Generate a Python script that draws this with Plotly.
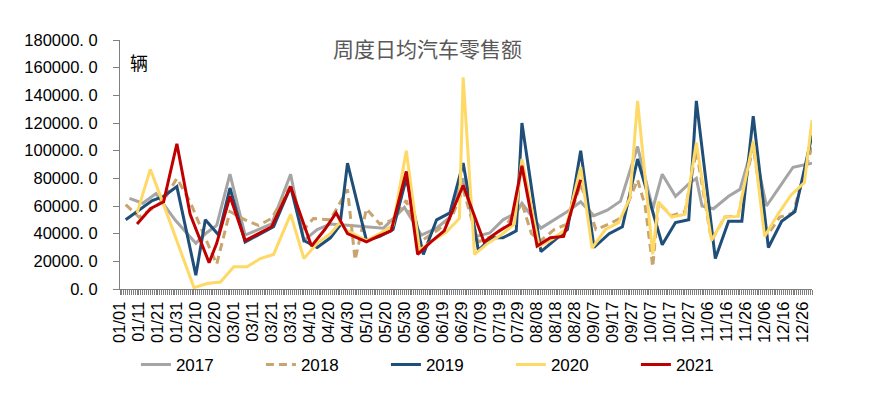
import plotly.graph_objects as go
import pandas as pd

# ---------------- data ----------------
dates_2017 = ["01/06", "01/13", "01/20", "01/30", "02/10", "02/15", "02/21", "02/28",
              "03/07", "03/14", "03/21", "03/31", "04/07", "04/14", "04/21", "04/30",
              "05/10", "05/19", "05/30", "06/08", "06/16", "06/23", "06/30",
              "07/07", "07/14", "07/21", "07/28", "07/31", "08/10", "08/17", "08/24", "08/31",
              "09/07", "09/14", "09/21", "09/30", "10/08", "10/13", "10/20", "10/27", "10/31",
              "11/03", "11/09", "11/17", "11/23", "11/30", "12/07", "12/14", "12/21", "12/31"]
sales_2017 = [65500, 62000, 69000, 50000, 33000, 40000, 46000, 83000,
              39000, 43000, 47000, 83000, 35000, 43000, 47000, 46000,
              45000, 44000, 59000, 39000, 44000, 52000, 80000,
              38000, 40500, 50000, 55000, 62000, 44000, 50000, 56000, 63000,
              53000, 57000, 63500, 103000, 58000, 83000, 67000, 76000, 80000,
              60000, 58000, 67000, 72000, 105000, 60000, 74000, 88000, 91000]

dates_2018 = ["01/04", "01/11", "01/18", "01/24", "01/31", "02/07", "02/14", "02/21", "02/28",
              "03/07", "03/14", "03/21", "03/31", "04/07", "04/12", "04/21", "04/30",
              "05/04", "05/10", "05/17", "05/24", "05/31", "06/07", "06/17", "06/24", "06/30",
              "07/08", "07/15", "07/22", "07/31", "08/05", "08/10", "08/17", "08/24", "08/31",
              "09/08", "09/15", "09/22", "09/30", "10/04", "10/08", "10/11", "10/18", "10/25", "10/31",
              "11/08", "11/15", "11/22", "11/30", "12/07", "12/14", "12/21", "12/31"]
sales_2018 = [61000, 52000, 58000, 64000, 80000, 63000, 40000, 18000, 56000,
              50000, 46000, 51000, 75000, 43000, 51000, 50000, 72000,
              21000, 58000, 47000, 50000, 64000, 34000, 43000, 52000, 72000,
              34000, 38000, 45000, 62000, 40000, 35000, 43000, 47000, 76000,
              43000, 47000, 52000, 79000, 60000, 16000, 62000, 53000, 56000, 100000,
              35000, 52000, 53000, 103000, 38000, 52000, 55000, 103000]

dates_2019 = ["01/04", "01/11", "01/18", "01/24", "01/31", "02/10", "02/15", "02/22", "02/28",
              "03/07", "03/14", "03/22", "03/31", "04/07", "04/14", "04/21", "04/26", "04/30",
              "05/10", "05/17", "05/24", "05/31", "06/09", "06/16", "06/23", "06/30",
              "07/08", "07/15", "07/21", "07/28", "07/31", "08/10", "08/17", "08/24", "08/31",
              "09/07", "09/15", "09/22", "09/30", "10/13", "10/20", "10/27", "10/31",
              "11/10", "11/17", "11/24", "11/30", "12/08", "12/15", "12/22", "12/31"]
sales_2019 = [50000, 57000, 64000, 67000, 74000, 10000, 50000, 39000, 73000,
              34000, 39000, 45000, 74000, 35000, 30000, 37000, 46000, 91000,
              35000, 38000, 43000, 80000, 25000, 50000, 55000, 91000,
              28000, 37000, 37000, 42000, 120000, 27000, 35000, 43000, 100000,
              30000, 40000, 45000, 94000, 32000, 48000, 50000, 136000,
              22000, 49000, 49000, 125000, 30000, 49000, 56000, 111000]

dates_2020 = ["01/10", "01/17", "01/24", "02/09", "02/16", "02/23", "03/01",
              "03/08", "03/15", "03/22", "03/31", "04/07", "04/14", "04/21", "04/26", "04/30",
              "05/10", "05/17", "05/24", "05/31", "06/07", "06/14", "06/21", "06/28", "06/30",
              "07/06", "07/13", "07/20", "07/27", "07/31", "08/09", "08/16", "08/23", "08/31",
              "09/06", "09/13", "09/20", "09/26", "09/30", "10/08", "10/11", "10/18", "10/25", "10/31",
              "11/08", "11/15", "11/22", "11/30", "12/06", "12/13", "12/20", "12/27", "12/31"]
sales_2020 = [55000, 86500, 61000, 1000, 4000, 5000, 16000,
              16000, 22000, 25000, 54000, 22000, 33000, 40000, 48000, 42000,
              35000, 40000, 46000, 100000, 28000, 35000, 41000, 51000, 153000,
              25000, 33000, 39000, 47000, 94000, 31000, 36000, 43000, 88000,
              29500, 43000, 48000, 66000, 136000, 25000, 63000, 52000, 54000, 106000,
              35000, 52000, 52500, 107000, 38000, 54000, 68000, 77000, 122000]

dates_2021 = ["01/10", "01/17", "01/24", "01/31", "02/07", "02/17", "02/21", "02/28",
              "03/07", "03/14", "03/21", "03/31", "04/11", "04/18", "04/24", "04/30",
              "05/10", "05/16", "05/23", "05/31", "06/06", "06/13", "06/20", "06/30",
              "07/11", "07/18", "07/25", "07/31", "08/08", "08/15", "08/22", "08/31"]
sales_2021 = [47000, 58000, 63000, 105000, 54000, 19000, 33000, 67000,
              35000, 40000, 45000, 74000, 31000, 43000, 55000, 40000,
              34000, 38000, 42000, 85000, 25000, 34000, 42000, 75000,
              34000, 41000, 47000, 89000, 31000, 37000, 38000, 79000]

x_tick_labels = ["01/01", "01/11", "01/21", "01/31", "02/10", "02/20", "03/01", "03/11",
                 "03/21", "03/31", "04/10", "04/20", "04/30", "05/10", "05/20", "05/30",
                 "06/09", "06/19", "06/29", "07/09", "07/19", "07/29", "08/08", "08/18",
                 "08/28", "09/07", "09/17", "09/27", "10/07", "10/17", "10/27", "11/06",
                 "11/16", "11/26", "12/06", "12/16", "12/26"]
y_tick_values = [0, 20000, 40000, 60000, 80000, 100000, 120000, 140000, 160000, 180000]
y_tick_labels = ["0. 0", "20000. 0", "40000. 0", "60000. 0", "80000. 0", "100000. 0",
                 "120000. 0", "140000. 0", "160000. 0", "180000. 0"]

title_text = "周度日均汽车零售额"
unit_text = "辆"
AXIS_YEAR = "2020"  # leap year calendar used for the month/day axis


def to_date(md_list):
    return pd.to_datetime([AXIS_YEAR + "/" + d for d in md_list], format="%Y/%m/%d")


series = [
    ("2017", dates_2017, sales_2017, "#A5A5A5", "solid"),
    ("2018", dates_2018, sales_2018, "#C8A46E", "8px,5px"),
    ("2019", dates_2019, sales_2019, "#1F4E79", "solid"),
    ("2020", dates_2020, sales_2020, "#FFD966", "solid"),
    ("2021", dates_2021, sales_2021, "#C00000", "solid"),
]

fig = go.Figure()
for name, d, v, color, dash in series:
    fig.add_trace(go.Scatter(
        x=to_date(d), y=v, name=name, mode="lines",
        line=dict(color=color, width=3, dash=dash),
    ))

tick_font = dict(family="Liberation Sans, Arial, sans-serif", size=16.5, color="#000000")

# the page body adds an 8px margin, so the figure is sized to fit the 881x397 window
fig.update_layout(
    width=865, height=381,
    margin=dict(l=112, r=61, t=32, b=100, autoexpand=False),
    paper_bgcolor="white", plot_bgcolor="white",
    showlegend=True,
    legend=dict(orientation="h", x=0.023, xanchor="left", y=-0.305, yanchor="middle",
                font=dict(family="Liberation Sans Narrow, Liberation Sans, Arial", size=17,
                          color="#000000"),
                entrywidth=80, entrywidthmode="pixels", bgcolor="rgba(0,0,0,0)"),
    xaxis=dict(
        type="date",
        range=[AXIS_YEAR + "-01-01", AXIS_YEAR + "-12-31"],
        tickvals=to_date(x_tick_labels), ticktext=x_tick_labels,
        tickangle=-90, tickfont=tick_font, automargin=False,
        showgrid=False, zeroline=False,
        showline=True, linecolor="#7F7F7F", linewidth=1,
        ticks="outside", ticklen=5, tickcolor="#7F7F7F",
        minor=dict(dtick=86400000, ticks="outside", ticklen=5, tickcolor="#7F7F7F",
                   showgrid=False),
    ),
    yaxis=dict(
        range=[0, 180000],
        tickvals=y_tick_values, ticktext=y_tick_labels,
        tickfont=tick_font, automargin=False,
        showgrid=False, zeroline=False,
        showline=True, linecolor="#7F7F7F", linewidth=1,
        ticks="outside", ticklen=6, tickcolor="#7F7F7F",
        ticklabelstandoff=12,
    ),
    annotations=[
        dict(text=title_text, xref="paper", yref="paper", x=0.445, y=0.968,
             xanchor="center", yanchor="middle", showarrow=False,
             font=dict(family="Noto Sans CJK SC", size=21, color="#595959")),
        dict(text=unit_text, xref="paper", yref="paper", x=0.027, y=0.91,
             xanchor="center", yanchor="middle", showarrow=False,
             font=dict(family="Noto Sans CJK SC", size=18, color="#000000")),
    ],
)

fig.write_html("out.html")
